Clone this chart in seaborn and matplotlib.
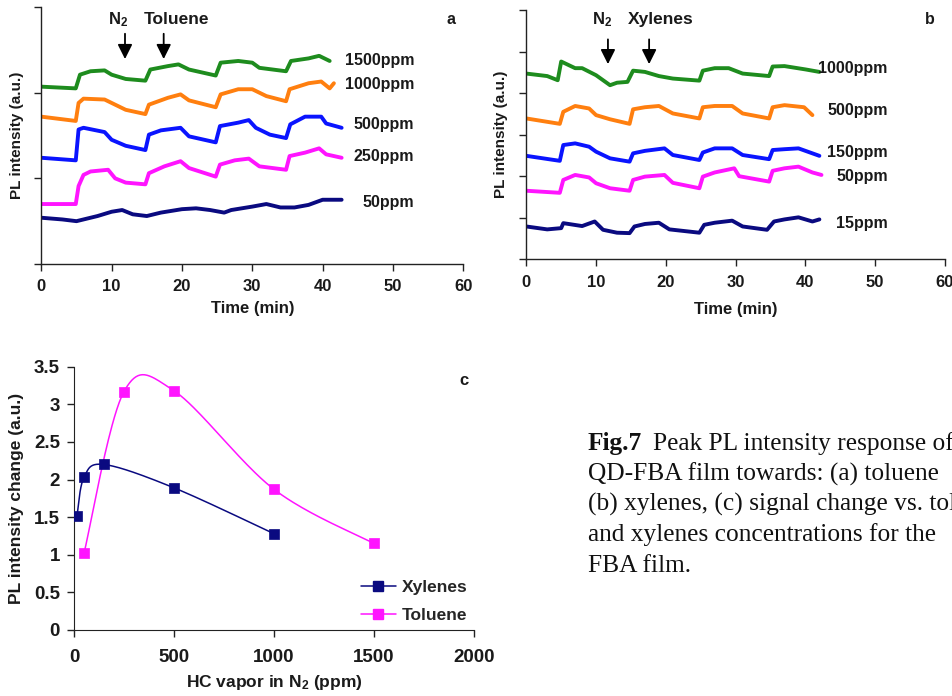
import numpy as np
import pandas as pd
import matplotlib
matplotlib.use("Agg")
import matplotlib.pyplot as plt
from matplotlib.lines import Line2D
import seaborn as sns

# ---------------- data: panel a (toluene) ----------------
a_labels = ["1500ppm", "1000ppm", "500ppm", "250ppm", "50ppm"]
a_t_1500 = [0, 4.9, 5.5, 7, 9, 10, 12, 14.8, 15.5, 18, 19.5, 21, 24.8, 25.5, 28, 30, 31, 34.8, 35.5, 38, 39.5, 41]
a_y_1500 = [2.07, 2.05, 2.21, 2.25, 2.26, 2.21, 2.16, 2.14, 2.27, 2.31, 2.33, 2.27, 2.20, 2.35, 2.37, 2.35, 2.29, 2.25, 2.37, 2.40, 2.43, 2.37]
a_t_1000 = [0, 4.9, 5.3, 6, 9, 10, 12, 14.8, 15.3, 18, 19.8, 21, 24.8, 25.5, 28, 30, 32, 34.8, 35.3, 38, 39.8, 41, 41.6]
a_y_1000 = [1.72, 1.67, 1.88, 1.93, 1.92, 1.88, 1.80, 1.75, 1.86, 1.94, 1.98, 1.91, 1.83, 1.98, 2.04, 2.04, 1.96, 1.90, 2.04, 2.11, 2.13, 2.05, 2.11]
a_t_500 = [0, 4.9, 5.3, 6, 9, 10, 12, 14.8, 15.3, 17, 19.8, 21, 24.8, 25.4, 28, 29.5, 30.5, 32.5, 34.8, 35.4, 37.5, 39.8, 40.5, 42.7]
a_y_500 = [1.24, 1.21, 1.57, 1.59, 1.54, 1.45, 1.38, 1.33, 1.51, 1.56, 1.59, 1.49, 1.42, 1.61, 1.65, 1.68, 1.59, 1.51, 1.47, 1.63, 1.72, 1.72, 1.64, 1.59]
a_t_250 = [0, 4.9, 5.3, 6, 7, 9.5, 10.5, 12, 14.8, 15.3, 17.5, 19.8, 21, 24.8, 25.4, 27.5, 29.5, 31, 34.8, 35.3, 37.5, 39.5, 40.5, 42.7]
a_y_250 = [0.70, 0.70, 0.91, 1.04, 1.08, 1.10, 1.00, 0.95, 0.93, 1.06, 1.14, 1.20, 1.12, 1.02, 1.16, 1.21, 1.23, 1.14, 1.10, 1.26, 1.30, 1.35, 1.28, 1.24]
a_t_50 = [0, 3, 5, 8, 10, 11.5, 13, 15, 17, 20, 22, 24, 26, 27, 30, 32, 34, 36, 38, 40, 42.7]
a_y_50 = [0.54, 0.52, 0.50, 0.56, 0.61, 0.63, 0.58, 0.56, 0.60, 0.64, 0.65, 0.63, 0.60, 0.63, 0.67, 0.70, 0.66, 0.66, 0.69, 0.75, 0.75]
a_label_y = [2.37, 2.09, 1.63, 1.26, 0.72]

# ---------------- data: panel b (xylenes) ----------------
b_labels = ["1000ppm", "500ppm", "150ppm", "50ppm", "15ppm"]
b_t_1000 = [0, 3, 4.5, 5.0, 5.5, 7, 8, 10, 12, 13, 14.5, 15.3, 17, 19, 21, 24.8, 25.3, 27, 29, 31, 34.8, 35.3, 37, 40, 42]
b_y_1000 = [4.47, 4.41, 4.31, 4.76, 4.72, 4.60, 4.60, 4.43, 4.19, 4.25, 4.27, 4.54, 4.51, 4.41, 4.35, 4.30, 4.54, 4.60, 4.60, 4.47, 4.41, 4.64, 4.65, 4.57, 4.51]
b_t_500 = [0, 4.8, 5.3, 7, 9, 10, 12, 14.8, 15.3, 17, 19, 21, 24.8, 25.3, 27, 29.5, 31, 34.8, 35.3, 37, 39.8, 41]
b_y_500 = [3.39, 3.26, 3.55, 3.69, 3.63, 3.47, 3.37, 3.26, 3.61, 3.66, 3.69, 3.51, 3.39, 3.66, 3.69, 3.69, 3.51, 3.39, 3.66, 3.71, 3.66, 3.47]
b_t_150 = [0, 4.8, 5.3, 7, 9, 10, 12, 14.8, 15.3, 17, 19.8, 21, 24.8, 25.3, 27, 29.5, 31, 34.8, 35.3, 37, 39, 41, 42]
b_y_150 = [2.49, 2.37, 2.75, 2.79, 2.71, 2.59, 2.43, 2.35, 2.55, 2.61, 2.67, 2.51, 2.39, 2.57, 2.67, 2.67, 2.51, 2.41, 2.63, 2.65, 2.67, 2.55, 2.49]
b_t_50 = [0, 4.8, 5.3, 7, 9, 10, 12, 14.8, 15.3, 17, 19.8, 21, 24.8, 25.3, 27, 29.8, 30.5, 34.8, 35.3, 37, 39, 41, 42.3]
b_y_50 = [1.65, 1.60, 1.91, 2.03, 1.97, 1.83, 1.71, 1.65, 1.91, 1.99, 2.03, 1.84, 1.71, 1.99, 2.09, 2.19, 2.00, 1.87, 2.13, 2.19, 2.23, 2.09, 2.03]
b_t_15 = [0, 3, 5, 5.3, 8, 9.8, 11, 13, 14.8, 15.5, 17, 19, 20.5, 24.8, 25.5, 27, 29.5, 31, 34.5, 35.5, 37, 39, 41, 42]
b_y_15 = [0.79, 0.72, 0.75, 0.87, 0.80, 0.91, 0.71, 0.64, 0.63, 0.79, 0.85, 0.88, 0.72, 0.64, 0.83, 0.88, 0.93, 0.79, 0.71, 0.91, 0.96, 1.01, 0.91, 0.96]
b_label_y = [4.60, 3.59, 2.58, 2.00, 0.87]

# ---------------- data: panel c ----------------
xyl_ppm = [15, 50, 150, 500, 1000]
xyl_change = [1.52, 2.03, 2.20, 1.89, 1.28]
tol_ppm = [50, 250, 500, 1000, 1500]
tol_change = [1.02, 3.17, 3.18, 1.87, 1.15]

colors = ["#1e8c1e", "#ff7f0f", "#0a14ff", "#ff14ff", "#0a0a80"]
txt = "#1a1a1a"

sns.set_style("ticks")
plt.rcParams["font.family"] = ["Liberation Sans", "DejaVu Sans"]
plt.rcParams["font.weight"] = "bold"
plt.rcParams["mathtext.fontset"] = "custom"
plt.rcParams["mathtext.rm"] = "Liberation Sans:bold"
plt.rcParams["mathtext.bf"] = "Liberation Sans:bold"
plt.rcParams["mathtext.default"] = "bf"

fig = plt.figure(figsize=(9.53, 6.96), dpi=100)
W, H = 953.0, 696.0


def ax_at(l, t, r, b):
    return fig.add_axes([l / W, 1 - b / H, (r - l) / W, (b - t) / H])


def style_trace_axes(ax, ymax, ylab_x, xlab_pad):
    ax.set_xlim(0, 60)
    ax.set_ylim(0, ymax)
    ax.set_xticks(range(0, 61, 10))
    ax.set_yticks(range(0, ymax + 1))
    ax.set_yticklabels([])
    for s in ["top", "right"]:
        ax.spines[s].set_visible(False)
    for s in ["left", "bottom"]:
        ax.spines[s].set_color("#222222")
        ax.spines[s].set_linewidth(1.0)
    ax.tick_params(axis="both", direction="out", length=5, width=1, colors="#222222",
                   labelsize=12, labelcolor=txt, pad=6)
    for lab in ax.get_xticklabels():
        lab.set_fontweight("bold")
    ax.set_xlabel("Time (min)", fontsize=12, fontweight="bold", color=txt, labelpad=xlab_pad)
    ax.set_ylabel("PL intensity (a.u.)", fontsize=11, fontweight="bold", color=txt)
    ax.yaxis.set_label_coords(ylab_x, 0.5)


def traces_df(ts, ys, labels):
    rows = []
    for t, y, lab in zip(ts, ys, labels):
        for ti, yi in zip(t, y):
            rows.append((ti, yi, lab))
    return pd.DataFrame(rows, columns=["t", "y", "conc"])


# ---------- panel a ----------
axa = ax_at(41.3, 7, 463.3, 264)
dfa = traces_df([a_t_1500, a_t_1000, a_t_500, a_t_250, a_t_50],
                [a_y_1500, a_y_1000, a_y_500, a_y_250, a_y_50], a_labels)
sns.lineplot(data=dfa, x="t", y="y", hue="conc", hue_order=a_labels,
             palette=colors, estimator=None, sort=False, legend=False,
             linewidth=2.8, ax=axa)
style_trace_axes(axa, 3, (24 - 41.3) / 422, 5)
for lab, yv in zip(a_labels, a_label_y):
    axa.text(53.0, yv, lab, ha="right", va="center", fontsize=11.5, fontweight="bold", color=txt)
axa.text(10.9, 2.85, "N$_2$", ha="center", va="center", fontsize=12, fontweight="bold", color=txt)
axa.text(14.6, 2.85, "Toluene", ha="left", va="center", fontsize=12.5, fontweight="bold", color=txt)
for xa in [11.9, 17.4]:
    axa.annotate("", xy=(xa, 2.36), xytext=(xa, 2.72),
                 arrowprops=dict(arrowstyle="-|>", color="k", lw=1.3, mutation_scale=22))
axa.text(58.2, 2.85, "a", ha="center", va="center", fontsize=11.5, fontweight="bold", color=txt)

# ---------- panel b ----------
axb = ax_at(526.3, 10, 945, 259.3)
dfb = traces_df([b_t_1000, b_t_500, b_t_150, b_t_50, b_t_15],
                [b_y_1000, b_y_500, b_y_150, b_y_50, b_y_15], b_labels)
sns.lineplot(data=dfb, x="t", y="y", hue="conc", hue_order=b_labels,
             palette=colors, estimator=None, sort=False, legend=False,
             linewidth=2.8, ax=axb)
style_trace_axes(axb, 6, (508 - 526.3) / 418.7, 9)
for lab, yv in zip(b_labels, b_label_y):
    axb.text(51.8, yv, lab, ha="right", va="center", fontsize=11.5, fontweight="bold", color=txt)
axb.text(10.85, 5.76, "N$_2$", ha="center", va="center", fontsize=12, fontweight="bold", color=txt)
axb.text(14.6, 5.76, "Xylenes", ha="left", va="center", fontsize=12.5, fontweight="bold", color=txt)
for xa in [11.7, 17.6]:
    axb.annotate("", xy=(xa, 4.63), xytext=(xa, 5.36),
                 arrowprops=dict(arrowstyle="-|>", color="k", lw=1.3, mutation_scale=22))
axb.text(57.8, 5.76, "b", ha="center", va="center", fontsize=11.5, fontweight="bold", color=txt)


# ---------- panel c ----------
def smooth(xs, ys, n=40):
    """Excel-style smoothed line (Catmull-Rom Bezier) through the data points."""
    p = np.column_stack([xs, ys]).astype(float)
    pts = [p[0]]
    for i in range(len(p) - 1):
        p0 = p[i - 1] if i > 0 else p[i]
        p1, p2 = p[i], p[i + 1]
        p3 = p[i + 2] if i + 2 < len(p) else p[i + 1]
        c1 = p1 + (p2 - p0) / 6.0
        c2 = p2 - (p3 - p1) / 6.0
        s = np.linspace(0, 1, n)[1:, None]
        seg = ((1 - s) ** 3) * p1 + 3 * ((1 - s) ** 2) * s * c1 + 3 * (1 - s) * s ** 2 * c2 + s ** 3 * p2
        pts.extend(seg)
    pts = np.array(pts)
    return pts[:, 0], pts[:, 1]


axc = ax_at(74, 366.7, 474, 630)
navy, mag = "#0a0a80", "#ff14ff"
for xs, ys, col in [(xyl_ppm, xyl_change, navy), (tol_ppm, tol_change, mag)]:
    sx, sy = smooth(xs, ys)
    sns.lineplot(x=sx, y=sy, color=col, linewidth=1.1, sort=False, estimator=None, ax=axc)
    sns.scatterplot(x=xs, y=ys, color=col, marker="s", s=55, edgecolor=col,
                    linewidth=0.5, ax=axc, zorder=5)
axc.set_xlim(0, 2000)
axc.set_ylim(0, 3.5)
axc.set_xticks([0, 500, 1000, 1500, 2000])
axc.set_yticks([0, 0.5, 1, 1.5, 2, 2.5, 3, 3.5])
axc.set_yticklabels(["0", "0.5", "1", "1.5", "2", "2.5", "3", "3.5"])
for s in ["top", "right"]:
    axc.spines[s].set_visible(False)
for s in ["left", "bottom"]:
    axc.spines[s].set_color("#222222")
axc.tick_params(axis="both", direction="out", length=5, width=1, colors="#222222",
                labelsize=13.5, labelcolor=txt)
axc.tick_params(axis="x", pad=9)
axc.tick_params(axis="y", pad=5)
for lab in axc.get_xticklabels() + axc.get_yticklabels():
    lab.set_fontweight("bold")
axc.set_xlabel("HC vapor in N$_2$ (ppm)", fontsize=12.5, fontweight="bold", color=txt, labelpad=5)
axc.set_ylabel("PL intensity change (a.u.)", fontsize=12.5, fontweight="bold", color=txt)
axc.yaxis.set_label_coords((24 - 74) / 400, 0.5)
axc.text(1950, 3.32, "c", ha="center", va="center", fontsize=12, fontweight="bold", color=txt)
handles = [Line2D([], [], color=navy, marker="s", markersize=7, lw=1.1),
           Line2D([], [], color=mag, marker="s", markersize=7, lw=1.1)]
axc.legend(handles, ["Xylenes", "Toluene"], loc="upper left", bbox_to_anchor=(0.717, 0.19),
           frameon=False, handlelength=2.0, handletextpad=0.35,
           labelspacing=0.75, borderpad=0, borderaxespad=0,
           prop={"weight": "bold", "size": 12.5})

# ---------- caption ----------
serif = ["Liberation Serif", "DejaVu Serif"]
cap_fs = 18.3
fig.text(588 / W, 1 - 450 / H, "Fig.7", family=serif, fontsize=cap_fs, fontweight="bold",
         ha="left", va="baseline", color="#111111")
fig.text(653 / W, 1 - 450 / H, "Peak PL intensity response of", family=serif, fontsize=cap_fs,
         fontweight="normal", ha="left", va="baseline", color="#111111")
cap_lines = ["QD-FBA film towards: (a) toluene", "(b) xylenes, (c) signal change vs. toluene",
             "and xylenes concentrations for the", "FBA film."]
for i, line in enumerate(cap_lines):
    fig.text(588 / W, 1 - (480.5 + 30.4 * i) / H, line, family=serif, fontsize=cap_fs,
             fontweight="normal", ha="left", va="baseline", color="#111111")

fig.savefig("out.png", dpi=100)
